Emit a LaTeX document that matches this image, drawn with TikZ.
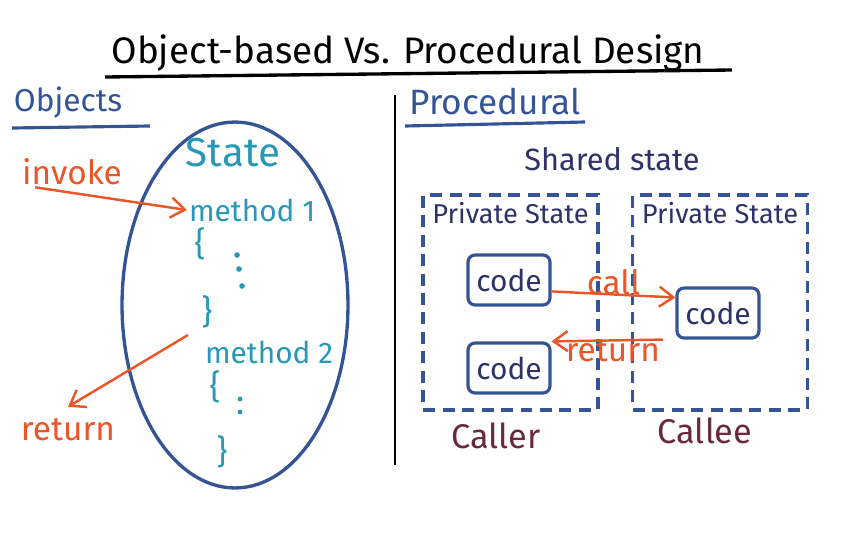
\documentclass[tikz,border=0pt]{standalone}
\usepackage{fontspec}
\setmainfont{Fira Sans}
\usepackage{xcolor}
\usetikzlibrary{positioning,shapes,arrows.meta}

\definecolor{inkblue}{RGB}{52,84,150}
\definecolor{inkteal}{RGB}{40,152,182}
\definecolor{inkorange}{RGB}{234,86,40}
\definecolor{inknavy}{RGB}{46,50,102}
\definecolor{inkmaroon}{RGB}{104,40,62}

\begin{document}
\begin{tikzpicture}[
    x=0.02cm, y=-0.02cm,
    heading/.style={font=\fontsize{18}{21}\selectfont, text=inkblue},
    member/.style={font=\fontsize{17}{20}\selectfont, text=inkteal, inner sep=1pt},
    brace/.style={member, font=\fontsize{19}{22}\selectfont, inner sep=0pt},
    note/.style={font=\fontsize{19}{22}\selectfont, text=inkorange, inner sep=1pt},
    privbox/.style={rectangle, draw=inkblue, line width=1.9pt, dash pattern=on 0.24cm off 0.15cm, minimum width=3.5cm, minimum height=4.3cm},
    codebox/.style={rectangle, rounded corners=4pt, draw=inkblue, line width=1.8pt, minimum width=1.64cm, minimum height=1cm, text=inknavy, font=\fontsize{17}{20}\selectfont},
    role/.style={font=\fontsize{19.5}{22}\selectfont, text=inkmaroon},
    arrow/.style={-{Straight Barb[length=2.8mm, width=4mm]}, line width=1.4pt, draw=inkorange}
]
\useasboundingbox (0,0) rectangle (846,541);

% title
\node[font=\fontsize{21}{24}\selectfont] (title) at (408,53) {Object-based Vs. Procedural Design};
\draw[line width=1.9pt] (105,77) -- (732,70);

% left half
\node[heading] (objects) at (68,103) {Objects};
\draw[line width=1.8pt, inkblue] (12,128) -- (150,126);
\draw[line width=1.6pt] (395,95) -- (395,465);
\node[heading, font=\fontsize{20}{23}\selectfont] (procedural) at (495,102) {Procedural};
\draw[line width=1.8pt, inkblue] (405,126) -- (585,122);

\node[ellipse, draw=inkblue, line width=1.9pt, minimum width=4.52cm, minimum height=7.32cm] (obj) at (235,305) {};
\node[member, font=\fontsize{23}{26}\selectfont] (state) at (233,153) {State};
\node[member, anchor=west] (methodA) at (187,210) {method 1};
\node[brace] (openA) at (200,244) {\{};
\foreach \px/\py in {237/255, 239/269, 242/286}
    \fill[inkteal] (\px,\py) circle (1.6pt);
\node[brace] (closeA) at (207,312) {\}};
\node[member, anchor=west] (methodB) at (203,352) {method 2};
\node[brace] (openB) at (215,387) {\{};
\foreach \px/\py in {240/399, 240/412}
    \fill[inkteal] (\px,\py) circle (1.4pt);
\node[brace] (closeB) at (222,452) {\}};

\node[note] (invoke) at (72,172) {invoke};
\node[note] (return) at (68,430) {return};
\coordinate (leave) at (188,335);
\draw[arrow] ([xshift=0.3cm]invoke.south west) -- (methodA.west);
\draw[arrow] (leave) -- ([yshift=0.2cm]return.north);

% right half
\node[font=\fontsize{17.5}{20}\selectfont, text=inknavy] (shared) at (612,159) {Shared state};
\node[privbox] (caller) at (510.5,302.5) {};
\node[privbox] (callee) at (720,302.5) {};
\node[text=inknavy, font=\fontsize{15.5}{18}\selectfont, below=0.05cm of caller.north] (privA) {Private State};
\node[text=inknavy, font=\fontsize{15.5}{18}\selectfont, below=0.05cm of callee.north] (privB) {Private State};
\node[codebox] (codeA) at (509,280) {code};
\node[codebox] (codeB) at (509,368) {code};
\node[codebox] (codeC) at (718,313) {code};
\draw[arrow] (codeA.-15) -- (codeC.160) node[midway, above, note, yshift=-2pt] (call) {call};
\draw[arrow] ([xshift=-0.25cm]codeC.south west) -- (codeB.north east) node[pos=0.45, below, note, yshift=2pt] (back) {return};
\node[role] (callerlbl) at (496,436) {Caller};
\node[role] (calleelbl) at (705,431) {Callee};
\end{tikzpicture}
\end{document}
